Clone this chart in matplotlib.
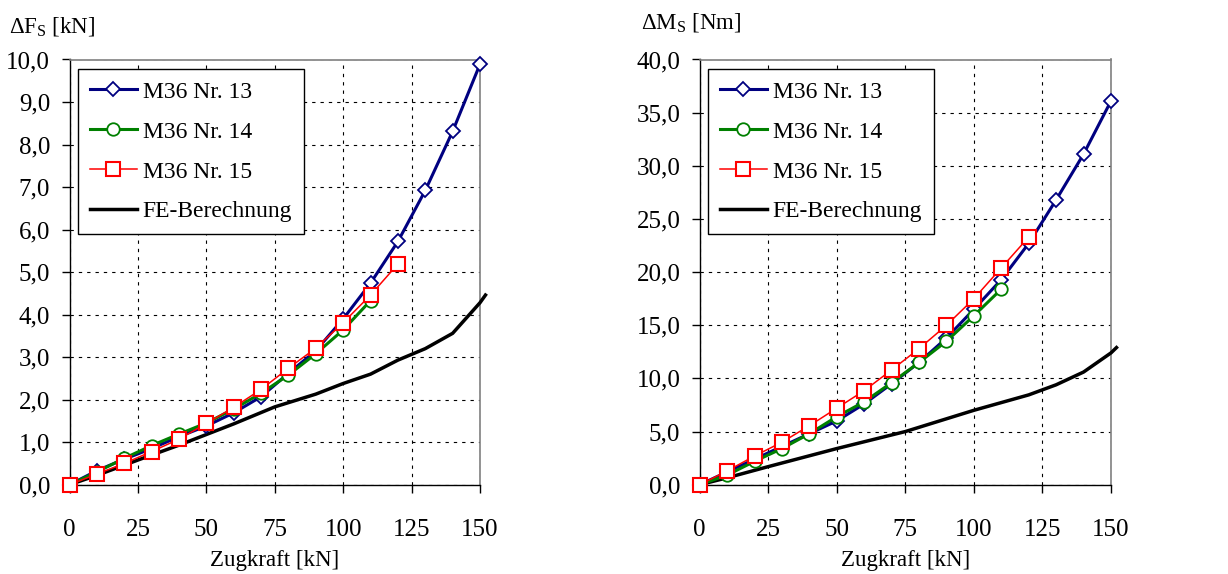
import matplotlib
matplotlib.use("Agg")
import matplotlib.pyplot as plt
from matplotlib.ticker import FuncFormatter, MultipleLocator

# ---------------- data ----------------
x13 = [0, 10, 20, 30, 40, 50, 60, 70, 80, 90, 100, 110, 120, 130, 140, 150]
x14 = [0, 10, 20, 30, 40, 50, 60, 70, 80, 90, 100, 110]
x15 = [0, 10, 20, 30, 40, 50, 60, 70, 80, 90, 100, 110, 120]

fs13 = [0, 0.33, 0.6, 0.85, 1.13, 1.38, 1.69, 2.07, 2.62, 3.15, 3.9, 4.74, 5.72, 6.92, 8.31, 9.89]
fs14 = [0, 0.3, 0.62, 0.92, 1.19, 1.45, 1.78, 2.15, 2.58, 3.08, 3.64, 4.33]
fs15 = [0, 0.25, 0.5, 0.78, 1.07, 1.44, 1.82, 2.24, 2.74, 3.21, 3.81, 4.46, 5.19]
x_fe_f = [0, 10, 25, 40, 50, 60, 75, 90, 100, 110, 120, 130, 140, 150, 152]
fs_fe = [0, 0.22, 0.58, 0.93, 1.18, 1.43, 1.83, 2.13, 2.38, 2.6, 2.93, 3.2, 3.56, 4.28, 4.46]

ms13 = [0, 1.2, 2.4, 3.6, 4.8, 6.0, 7.6, 9.5, 11.5, 13.8, 16.5, 19.3, 22.7, 26.8, 31.1, 36.1]
ms14 = [0, 0.9, 2.2, 3.4, 4.8, 6.4, 7.8, 9.6, 11.5, 13.5, 15.9, 18.4]
ms15 = [0, 1.3, 2.7, 4.0, 5.55, 7.2, 8.85, 10.8, 12.8, 15.0, 17.5, 20.4, 23.3]
x_fe_m = [0, 10, 25, 50, 75, 100, 120, 130, 140, 150, 152]
ms_fe = [0, 0.65, 1.7, 3.4, 5.0, 7.0, 8.45, 9.4, 10.6, 12.4, 12.9]

labels = ["M36 Nr. 13", "M36 Nr. 14", "M36 Nr. 15", "FE-Berechnung"]
xlabel = "Zugkraft [kN]"
ylabel_f = "ΔF$_\\mathrm{S}$ [kN]"
ylabel_m = "ΔM$_\\mathrm{S}$ [Nm]"

# ---------------- style ----------------
plt.rcParams["font.family"] = ["Liberation Serif", "DejaVu Serif"]
plt.rcParams["mathtext.fontset"] = "custom"
plt.rcParams["mathtext.rm"] = "Liberation Serif"
FS_TICK = 18
FS_LEG = 17
FS_LAB = 16.5

fig = plt.figure(figsize=(12.28, 5.74), dpi=100)
W, H = 1228, 574


def make_axes(left_px, right_px):
    return fig.add_axes([left_px / W, 1 - 484.7 / H,
                         (right_px - left_px) / W, (484.7 - 59.5) / H])


def style(ax, ymax, ystep):
    ax.set_xlim(0, 150)
    ax.set_ylim(0, ymax)
    ax.xaxis.set_major_locator(MultipleLocator(25))
    ax.yaxis.set_major_locator(MultipleLocator(ystep))
    ax.yaxis.set_major_formatter(FuncFormatter(lambda v, p: f"{v:.1f}".replace(".", ",")))
    ax.tick_params(axis="both", direction="out", length=6, width=1, labelsize=FS_TICK)
    ax.tick_params(axis="x", pad=19)
    ax.tick_params(axis="y", pad=8)
    ax.grid(True, color="black", linestyle=(0, (3, 4.5)), linewidth=0.8)
    for s in ("left", "bottom"):
        ax.spines[s].set_color("black")
        ax.spines[s].set_linewidth(1)
    for s in ("top", "right"):
        ax.spines[s].set_color("#808080")
        ax.spines[s].set_linewidth(1.2)
    ax.set_xlabel(xlabel, fontsize=FS_LAB, labelpad=6)


def plot_series(ax, y13, y14, y15, xfe, yfe):
    ax.plot(xfe, yfe, color="black", lw=2.5, zorder=3, label=labels[3], clip_on=False)
    ax.plot(x13, y13, color="#000080", lw=2.2, marker="D", ms=7, mfc="white",
            mec="#000080", mew=1.3, zorder=4, label=labels[0], clip_on=False)
    ax.plot(x14, y14, color="#008000", lw=2.2, marker="o", ms=9, mfc="white",
            mec="#008000", mew=1.3, zorder=5, label=labels[1], clip_on=False)
    ax.plot(x15, y15, color="#FF0000", lw=1.1, marker="s", ms=10.5, mfc="white",
            mec="#FF0000", mew=1.5, zorder=6, label=labels[2], clip_on=False)
    h, l = ax.get_legend_handles_labels()
    order = [1, 2, 3, 0]
    leg = ax.legend([h[i] for i in order], [l[i] for i in order],
                    loc="upper left", bbox_to_anchor=(0.02, 0.977), borderaxespad=0,
                    fontsize=FS_LEG, frameon=True, fancybox=False, framealpha=1,
                    edgecolor="black", handlelength=2.0, handletextpad=0.25,
                    labelspacing=0.78, borderpad=0.5)
    leg.get_frame().set_linewidth(1.0)


ax1 = make_axes(69.5, 480)
style(ax1, 10, 1)
plot_series(ax1, fs13, fs14, fs15, x_fe_f, fs_fe)

ax2 = make_axes(699.7, 1111)
style(ax2, 40, 5)
plot_series(ax2, ms13, ms14, ms15, x_fe_m, ms_fe)

fig.text(9 / W, 1 - 27 / H, ylabel_f, fontsize=FS_LAB, ha="left", va="center")
fig.text(641 / W, 1 - 23 / H, ylabel_m, fontsize=FS_LAB, ha="left", va="center")

fig.savefig("out.png", dpi=100)
